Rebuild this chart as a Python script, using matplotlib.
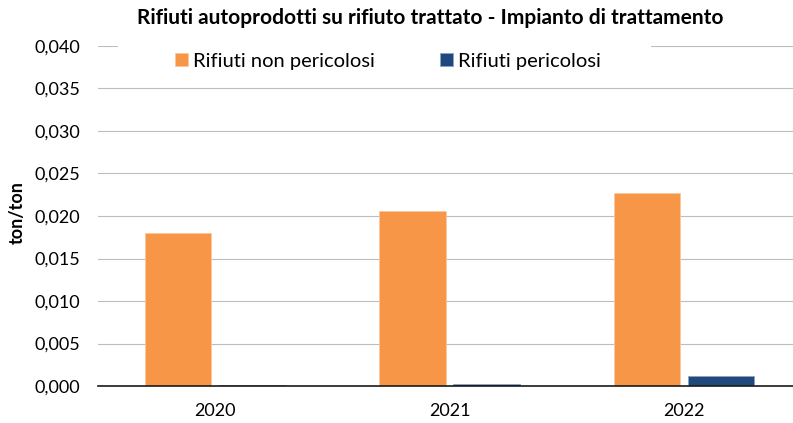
import matplotlib
matplotlib.use("Agg")
import matplotlib.pyplot as plt
from matplotlib.patches import Rectangle
import numpy as np

years = ["2020", "2021", "2022"]
non_pericolosi = [0.0180, 0.02055, 0.0227]
pericolosi = [0.00015, 0.0002, 0.0012]
series_names = ["Rifiuti non pericolosi", "Rifiuti pericolosi"]
yticks = [0.000, 0.005, 0.010, 0.015, 0.020, 0.025, 0.030, 0.035, 0.040]
title = "Rifiuti autoprodotti su rifiuto trattato - Impianto di trattamento"
ylabel = "ton/ton"

plt.rcParams['font.family'] = ['Lato', 'DejaVu Sans']

W, H = 793, 423
fig = plt.figure(figsize=(W / 100, H / 100), dpi=100)
left, right, bottom, top = 98, 801, 386, 46
ax = fig.add_axes([left / W, 1 - bottom / H, (right - left) / W, (bottom - top) / H])

x = np.arange(len(years))
bw = 0.283
gap = 0.034
c1, c2 = "#F79646", "#1F497D"
ax.bar(x - bw / 2 - gap / 2, non_pericolosi, bw, color=c1, edgecolor="#FBC8A0", linewidth=0.6,
       label=series_names[0], zorder=3)
ax.bar(x + bw / 2 + gap / 2, pericolosi, bw, color=c2, edgecolor="#8EA4C4", linewidth=0.6,
       label=series_names[1], zorder=3)

ax.set_xlim(-0.5, len(years) - 0.5)
ax.set_ylim(0, 0.040)
ax.set_yticks(yticks)
ax.set_yticklabels([f"{v:.3f}".replace(".", ",") for v in yticks], fontsize=13)
ax.set_xticks(x)
ax.set_xticklabels(years, fontsize=13)
ax.tick_params(axis="both", length=0, colors="#000000")
ax.tick_params(axis="y", pad=13)
ax.tick_params(axis="x", pad=12)
ax.yaxis.grid(True, color="#bdbdbd", linewidth=0.8, zorder=0)
ax.set_axisbelow(True)
for s in ["top", "right", "left"]:
    ax.spines[s].set_visible(False)
ax.spines["bottom"].set_color("#1a1a1a")
ax.spines["bottom"].set_linewidth(1.2)
ax.spines["bottom"].set_zorder(4)

# white legend background box (hides gridline behind legend)
fig.patches.append(Rectangle((118 / W, 1 - 84 / H), (651 - 118) / W, 44 / H,
                             transform=fig.transFigure, facecolor="white",
                             edgecolor="none", zorder=5))

fig.text(17 / W, 1 - 213 / H, ylabel, rotation=90, ha="center", va="center",
         fontsize=13, fontweight="bold")
fig.text(430 / W, 1 - 18 / H, title, ha="center", va="center", fontsize=15, fontweight="bold")

leg = fig.legend(loc="center", bbox_to_anchor=(388 / W, 1 - 61 / H), ncol=2,
                 frameon=False, fontsize=14.5, handlelength=0.65, handleheight=0.65,
                 handletextpad=0.25, columnspacing=3.2, borderpad=0.2)
leg.set_zorder(6)

fig.savefig("out.png", dpi=100)
